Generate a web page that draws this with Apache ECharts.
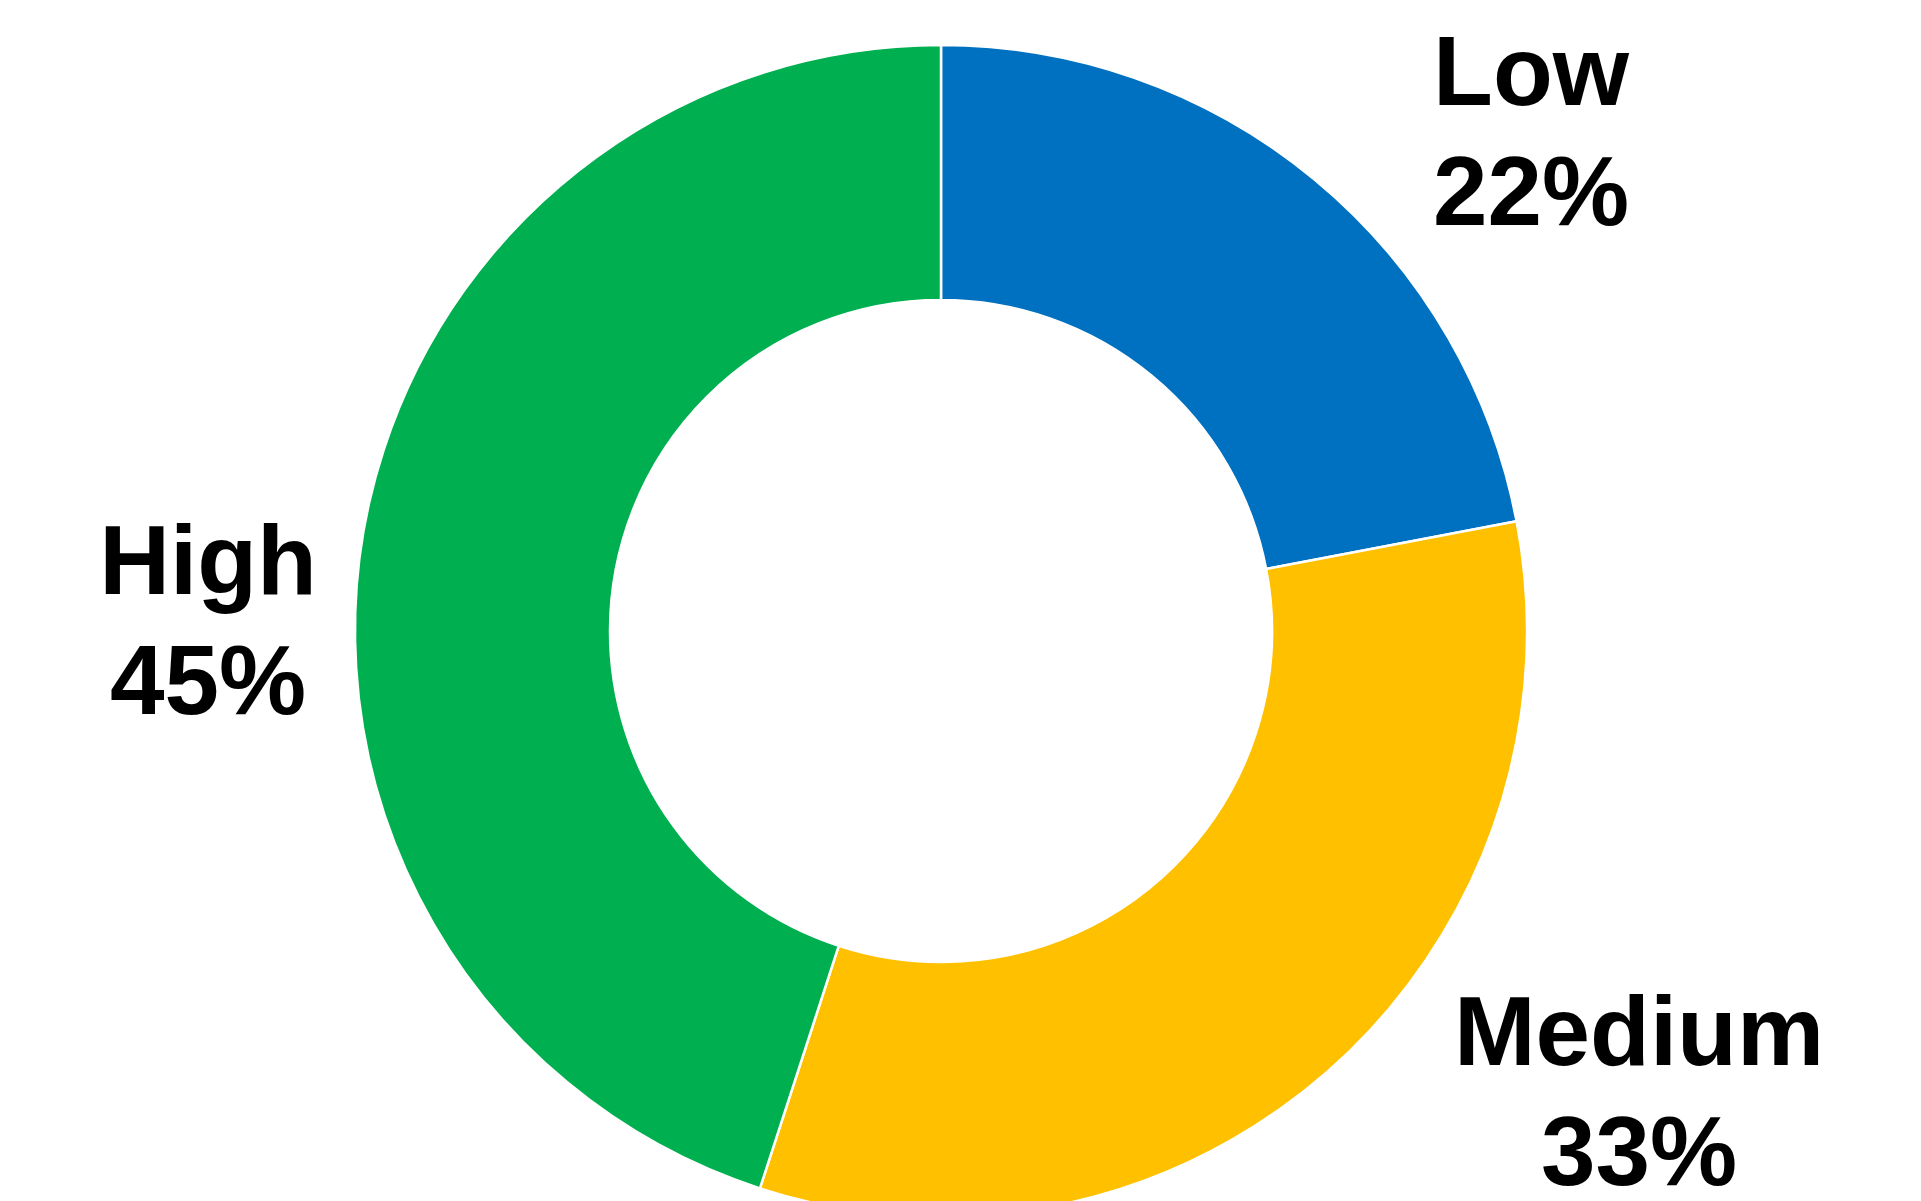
<!DOCTYPE html>
<html>
<head>
<meta charset="utf-8">
<script src="https://cdn.jsdelivr.net/npm/echarts@6/dist/echarts.min.js"></script>
<style>
html,body{margin:0;padding:0;background:#fff;}
#chart{width:1921px;height:1201px;}
</style>
</head>
<body>
<div id="chart"></div>
<script>
const categories = ['Low', 'Medium', 'High'];
const values = [22, 33, 45];
const colors = ['#0070C0', '#FFC000', '#00B050'];

// label centre offsets from pie centre (layout only)
const labelOffsets = [[590, -493], [698, 467], [-733, -4]];
const CX = 941, CY = 631;

const chart = echarts.init(document.getElementById('chart'), null, {renderer: 'canvas'});
chart.setOption({
  backgroundColor: '#ffffff',
  animation: false,
  series: [{
    type: 'pie',
    center: [CX, CY],
    radius: [331, 586],
    startAngle: 90,
    clockwise: true,
    avoidLabelOverlap: false,
    data: categories.map((c, i) => ({name: c, value: values[i], itemStyle: {color: colors[i]}})),
    itemStyle: {borderColor: '#ffffff', borderWidth: 2.5},
    label: {
      show: true,
      position: 'outside',
      formatter: p => p.name + '\n' + p.value + '%',
      fontFamily: 'Liberation Sans, Arial, sans-serif',
      fontWeight: 'bold',
      fontSize: 98,
      lineHeight: 120,
      color: '#000000',
      align: 'center'
    },
    labelLine: {show: false},
    labelLayout: function (params) {
      const o = labelOffsets[params.dataIndex];
      return {x: CX + o[0], y: CY + o[1], align: 'center', verticalAlign: 'middle'};
    },
    emphasis: {disabled: true}
  }]
});
</script>
</body>
</html>
